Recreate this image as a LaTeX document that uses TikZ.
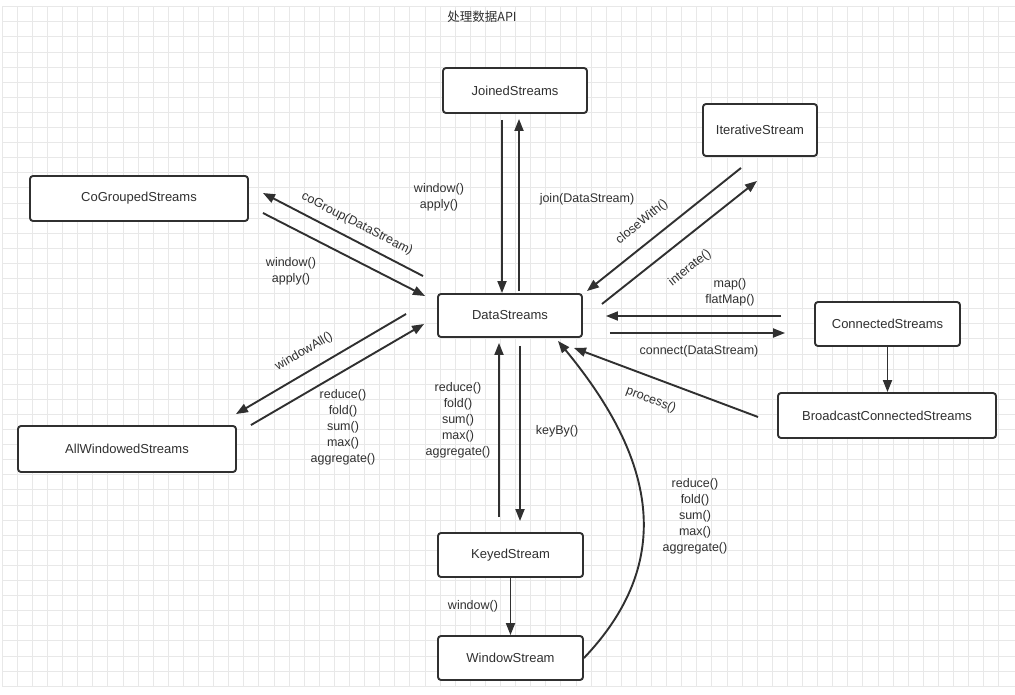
\documentclass[tikz,border=0pt]{standalone}
\usepackage{fontspec}
\setmainfont{Liberation Sans}
\newfontfamily\cjk{Noto Sans CJK SC}
\usetikzlibrary{arrows.meta}
\definecolor{ink}{HTML}{303030}
\definecolor{gridc}{HTML}{E8E8E8}
\tikzset{
  box/.style={draw=ink, line width=1.9pt, rounded corners=3pt, fill=white,
    text=ink, font=\fontsize{13}{16}\selectfont, inner sep=0pt},
  arr/.style={draw=ink, line width=1.9pt, -{Triangle[length=12pt,width=9pt]}},
  lbl/.style={text=ink, font=\fontsize{12.5}{16}\selectfont, align=center, inner sep=0pt},
}
\begin{document}
\begin{tikzpicture}[x=1pt,y=-1pt]
\useasboundingbox (0,0) rectangle (1015,695);
\fill[white] (0,0) rectangle (1015,695);
% grid
\foreach \k in {0,...,66} {
  \draw[gridc, line width=0.9pt] ({2.2+15.1*\k},6.7) -- ({2.2+15.1*\k},686.7);
}
\foreach \k in {0,...,45} {
  \draw[gridc, line width=0.9pt] (2.2,{6.7+15.1*\k}) -- (1015,{6.7+15.1*\k});
}
% title
\node[lbl, font=\cjk\fontsize{12.5}{16}\selectfont] (title) at (482,17) {处理数据API};
% nodes
\node[box, minimum width=144pt, minimum height=45pt] (js) at (515,90.5) {JoinedStreams};
\node[box, minimum width=114pt, minimum height=52pt] (it) at (760,130) {IterativeStream};
\node[box, minimum width=218pt, minimum height=45pt] (cg) at (139,198.5) {CoGroupedStreams};
\node[box, minimum width=144pt, minimum height=43pt] (ds) at (510,315.5) {DataStreams};
\node[box, minimum width=145pt, minimum height=44pt] (cs) at (887.5,324) {ConnectedStreams};
\node[box, minimum width=218pt, minimum height=45pt] (bc) at (887,415.5) {BroadcastConnectedStreams};
\node[box, minimum width=218pt, minimum height=46pt] (aw) at (127,449) {AllWindowedStreams};
\node[box, minimum width=145pt, minimum height=44pt] (ks) at (510.5,555) {KeyedStream};
\node[box, minimum width=145pt, minimum height=44pt] (ws) at (510.5,658) {WindowStream};
% connectors
\draw[arr] ([xshift=-13pt,yshift=-6pt]js.south) -- ([xshift=-8pt]ds.north);
\draw[arr] ([xshift=9pt,yshift=2pt]ds.north) -- ([xshift=4pt,yshift=-5pt]js.south);
\draw[arr] ([xshift=-14pt,yshift=17pt]ds.north west) -- ([xshift=14pt,yshift=5.5pt]cg.east);
\draw[arr] ([xshift=14pt,yshift=-14.5pt]cg.east) -- ([xshift=-12pt,yshift=19.5pt]ds.west);
\draw[arr] ([xshift=-31pt,yshift=1.5pt]ds.west) -- ([xshift=-1pt,yshift=11pt]aw.north east);
\draw[arr] ([xshift=14pt]aw.north east) -- ([xshift=-13pt,yshift=-8.5pt]ds.west);
\draw[arr] ([xshift=-11.5pt,yshift=15pt]ks.north) -- ([xshift=-11pt,yshift=-5pt]ds.south);
\draw[arr] ([xshift=10pt,yshift=-8pt]ds.south) -- ([xshift=9.5pt,yshift=11pt]ks.north);
\draw[arr] (ks.south) -- (ws.north);
\draw[arr] (ws.east) .. controls (682,555) and (648,450) .. ([xshift=48pt,yshift=-3pt]ds.south);
\draw[arr] ([xshift=-19pt,yshift=-11pt]it.south) -- ([xshift=4pt,yshift=2pt]ds.north east);
\draw[arr] ([xshift=19pt,yshift=11.5pt]ds.east) -- ([xshift=-3pt,yshift=-24pt]it.south);
\draw[arr] ([xshift=-33pt,yshift=8pt]cs.west) -- ([xshift=23pt,yshift=-0.5pt]ds.east);
\draw[arr] ([xshift=27pt,yshift=-17.5pt]ds.east) -- ([xshift=-29pt,yshift=-9pt]cs.west);
\draw[arr] (cs.south) -- (cs.south |- bc.north);
\draw[arr] ([xshift=-19pt,yshift=-1.5pt]bc.west) -- ([xshift=-9pt,yshift=-10pt]ds.south east);
% labels
\node[lbl] (l1) at (439,197) {window()\\apply()};
\node[lbl] (l2) at (587,199) {join(DataStream)};
\node[lbl, rotate=-27] (l3) at (357,224) {coGroup(DataStream)};
\node[lbl] (l4) at (291,271) {window()\\apply()};
\node[lbl, rotate=30] (l5) at (304,352) {windowAll()};
\node[lbl] (l6) at (343,427) {reduce()\\fold()\\sum()\\max()\\aggregate()};
\node[lbl] (l7) at (458,420) {reduce()\\fold()\\sum()\\max()\\aggregate()};
\node[lbl] (l8) at (557,431) {keyBy()};
\node[lbl] (l9) at (473,606) {window()};
\node[lbl] (l10) at (695,516) {reduce()\\fold()\\sum()\\max()\\aggregate()};
\node[lbl, rotate=38.8] (l11) at (642,222) {closeWith()};
\node[lbl, rotate=38.5] (l12) at (690,268) {interate()};
\node[lbl] (l13) at (730,292) {map()\\flatMap()};
\node[lbl] (l14) at (699,351) {connect(DataStream)};
\node[lbl, rotate=-20.6] (l15) at (651,400) {process()};
\end{tikzpicture}
\end{document}
